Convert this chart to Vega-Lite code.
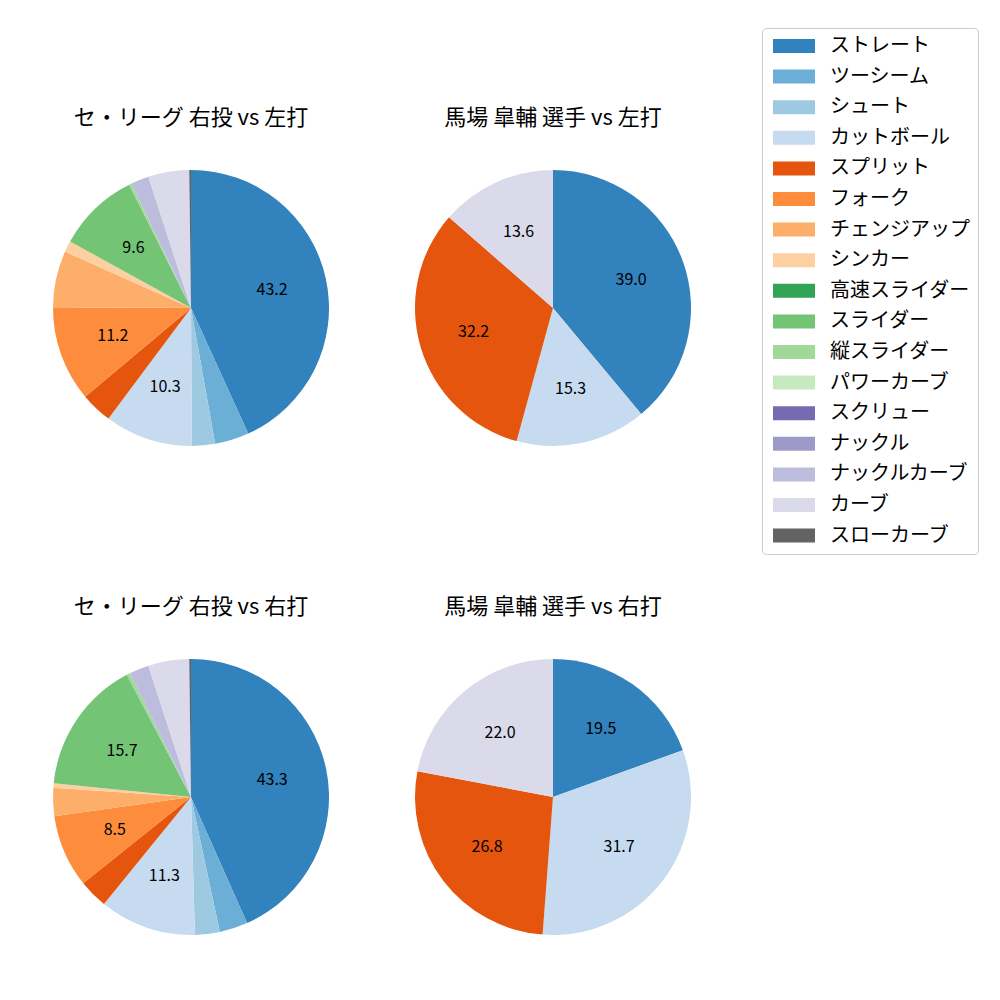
{
  "$schema": "https://vega.github.io/schema/vega-lite/v6.json",
  "padding": {"left": 41, "top": 27, "right": 5, "bottom": 5},
  "background": "white",
  "data": {"values": [
    {"panel": "セ・リーグ 右投 vs 左打", "pitch": "ストレート", "o": 1, "value": 43.2, "label": "43.2"},
    {"panel": "セ・リーグ 右投 vs 左打", "pitch": "ツーシーム", "o": 2, "value": 4.0, "label": ""},
    {"panel": "セ・リーグ 右投 vs 左打", "pitch": "シュート", "o": 3, "value": 2.7, "label": ""},
    {"panel": "セ・リーグ 右投 vs 左打", "pitch": "カットボール", "o": 4, "value": 10.3, "label": "10.3"},
    {"panel": "セ・リーグ 右投 vs 左打", "pitch": "スプリット", "o": 5, "value": 3.7, "label": ""},
    {"panel": "セ・リーグ 右投 vs 左打", "pitch": "フォーク", "o": 6, "value": 11.2, "label": "11.2"},
    {"panel": "セ・リーグ 右投 vs 左打", "pitch": "チェンジアップ", "o": 7, "value": 6.6, "label": ""},
    {"panel": "セ・リーグ 右投 vs 左打", "pitch": "シンカー", "o": 8, "value": 1.3, "label": ""},
    {"panel": "セ・リーグ 右投 vs 左打", "pitch": "スライダー", "o": 10, "value": 9.6, "label": "9.6"},
    {"panel": "セ・リーグ 右投 vs 左打", "pitch": "縦スライダー", "o": 11, "value": 0.3, "label": ""},
    {"panel": "セ・リーグ 右投 vs 左打", "pitch": "ナックルカーブ", "o": 15, "value": 2.1, "label": ""},
    {"panel": "セ・リーグ 右投 vs 左打", "pitch": "カーブ", "o": 16, "value": 4.8, "label": ""},
    {"panel": "セ・リーグ 右投 vs 左打", "pitch": "スローカーブ", "o": 17, "value": 0.2, "label": ""},
    {"panel": "馬場 皐輔 選手 vs 左打", "pitch": "ストレート", "o": 1, "value": 39.0, "label": "39.0"},
    {"panel": "馬場 皐輔 選手 vs 左打", "pitch": "カットボール", "o": 4, "value": 15.3, "label": "15.3"},
    {"panel": "馬場 皐輔 選手 vs 左打", "pitch": "スプリット", "o": 5, "value": 32.2, "label": "32.2"},
    {"panel": "馬場 皐輔 選手 vs 左打", "pitch": "カーブ", "o": 16, "value": 13.6, "label": "13.6"},
    {"panel": "セ・リーグ 右投 vs 右打", "pitch": "ストレート", "o": 1, "value": 43.3, "label": "43.3"},
    {"panel": "セ・リーグ 右投 vs 右打", "pitch": "ツーシーム", "o": 2, "value": 3.3, "label": ""},
    {"panel": "セ・リーグ 右投 vs 右打", "pitch": "シュート", "o": 3, "value": 2.9, "label": ""},
    {"panel": "セ・リーグ 右投 vs 右打", "pitch": "カットボール", "o": 4, "value": 11.3, "label": "11.3"},
    {"panel": "セ・リーグ 右投 vs 右打", "pitch": "スプリット", "o": 5, "value": 3.4, "label": ""},
    {"panel": "セ・リーグ 右投 vs 右打", "pitch": "フォーク", "o": 6, "value": 8.5, "label": "8.5"},
    {"panel": "セ・リーグ 右投 vs 右打", "pitch": "チェンジアップ", "o": 7, "value": 3.3, "label": ""},
    {"panel": "セ・リーグ 右投 vs 右打", "pitch": "シンカー", "o": 8, "value": 0.5, "label": ""},
    {"panel": "セ・リーグ 右投 vs 右打", "pitch": "スライダー", "o": 10, "value": 15.7, "label": "15.7"},
    {"panel": "セ・リーグ 右投 vs 右打", "pitch": "縦スライダー", "o": 11, "value": 0.4, "label": ""},
    {"panel": "セ・リーグ 右投 vs 右打", "pitch": "ナックルカーブ", "o": 15, "value": 2.3, "label": ""},
    {"panel": "セ・リーグ 右投 vs 右打", "pitch": "カーブ", "o": 16, "value": 4.8, "label": ""},
    {"panel": "セ・リーグ 右投 vs 右打", "pitch": "スローカーブ", "o": 17, "value": 0.2, "label": ""},
    {"panel": "馬場 皐輔 選手 vs 右打", "pitch": "ストレート", "o": 1, "value": 19.5, "label": "19.5"},
    {"panel": "馬場 皐輔 選手 vs 右打", "pitch": "カットボール", "o": 4, "value": 31.7, "label": "31.7"},
    {"panel": "馬場 皐輔 選手 vs 右打", "pitch": "スプリット", "o": 5, "value": 26.8, "label": "26.8"},
    {"panel": "馬場 皐輔 選手 vs 右打", "pitch": "カーブ", "o": 16, "value": 22.0, "label": "22.0"}
  ]},
  "facet": {
    "field": "panel",
    "type": "nominal",
    "sort": ["セ・リーグ 右投 vs 左打", "馬場 皐輔 選手 vs 左打", "セ・リーグ 右投 vs 右打", "馬場 皐輔 選手 vs 右打"],
    "header": {"title": null, "labelFont": "Noto Sans CJK JP", "labelFontSize": 22, "labelColor": "black", "labelPadding": 28}
  },
  "columns": 2,
  "spacing": {"column": 62, "row": 138},
  "spec": {
    "width": 300,
    "height": 300,
    "layer": [
      {
        "mark": {"type": "arc", "outerRadius": 138},
        "encoding": {
          "theta": {"field": "value", "type": "quantitative", "stack": true},
          "order": {"field": "o", "type": "quantitative"},
          "color": {
            "field": "pitch",
            "type": "nominal",
            "scale": {
              "domain": ["ストレート", "ツーシーム", "シュート", "カットボール", "スプリット", "フォーク", "チェンジアップ", "シンカー", "高速スライダー", "スライダー", "縦スライダー", "パワーカーブ", "スクリュー", "ナックル", "ナックルカーブ", "カーブ", "スローカーブ"],
              "range": ["#3182bd", "#6baed6", "#9ecae1", "#c6dbef", "#e6550d", "#fd8d3c", "#fdae6b", "#fdd0a2", "#31a354", "#74c476", "#a1d99b", "#c7e9c0", "#756bb1", "#9e9ac8", "#bcbddc", "#dadaeb", "#636363"]
            },
            "legend": {
              "title": null,
              "orient": "none",
              "legendX": 721,
              "legendY": -130,
              "labelFont": "Noto Sans CJK JP",
              "labelFontSize": 20,
              "labelColor": "black",
              "labelOffset": 40,
              "symbolType": "M-1,-1L5,-1L5,1L-1,1Z",
              "symbolSize": 196,
              "symbolStrokeWidth": 0,
              "symbolOpacity": 1,
              "rowPadding": 10.6,
              "padding": 8,
              "strokeColor": "#cccccc",
              "cornerRadius": 4,
              "fillColor": "white"
            }
          }
        }
      },
      {
        "mark": {"type": "text", "radius": 83, "font": "Noto Sans CJK JP", "fontSize": 16, "color": "black"},
        "encoding": {
          "theta": {"field": "value", "type": "quantitative", "stack": true},
          "order": {"field": "o", "type": "quantitative"},
          "text": {"field": "label", "type": "nominal"}
        }
      }
    ]
  },
  "config": {"view": {"stroke": null}}
}
